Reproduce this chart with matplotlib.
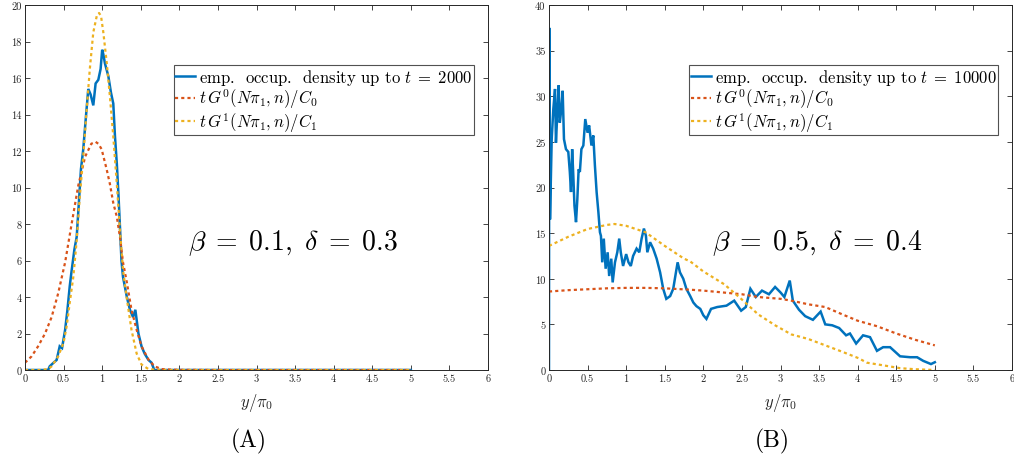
import matplotlib
matplotlib.use("Agg")
import matplotlib.pyplot as plt

plt.rcParams['font.family'] = ['cmr10', 'DejaVu Serif']
plt.rcParams['mathtext.fontset'] = 'cm'
plt.rcParams['axes.formatter.use_mathtext'] = True
plt.rcParams['axes.unicode_minus'] = False

BLUE = '#0072BD'
RED = '#D95319'
YEL = '#EDB120'

# ---------------- Panel A data ----------------
a_emp_x = [0, 0.3, 0.32, 0.37, 0.41, 0.45, 0.48, 0.52, 0.55, 0.58, 0.6, 0.64, 0.67,
           0.70, 0.725, 0.755, 0.79, 0.82, 0.85, 0.885, 0.915, 0.95, 0.98, 1.0, 1.015,
           1.036, 1.08, 1.114, 1.144, 1.166, 1.19, 1.21, 1.23, 1.25, 1.27, 1.32, 1.36,
           1.40, 1.43, 1.47, 1.51, 1.55, 1.6, 1.64, 1.675, 1.8, 2, 3, 4, 5]
a_emp_y = [0, 0, 0.2, 0.4, 0.55, 1.3, 1.2, 2.2, 3.3, 4.6, 5.3, 6.6, 7.3,
           9.3, 11.0, 12.1, 13.9, 15.4, 15.1, 14.5, 15.7, 15.9, 16.5, 17.55, 17.3,
           16.8, 16.1, 15.2, 14.6, 12.8, 11.3, 9.7, 7.9, 6.0, 5.1, 4.0, 3.3,
           2.9, 3.3, 2.0, 1.3, 0.9, 0.55, 0.4, 0, 0, 0, 0, 0, 0]

a_g0_x = [0, 0.086, 0.17, 0.26, 0.345, 0.43, 0.52, 0.6, 0.69, 0.78, 0.86, 0.915, 0.95,
          0.993, 1.058, 1.10, 1.144, 1.19, 1.23, 1.27, 1.32, 1.38, 1.447, 1.51, 1.6,
          1.68, 1.77, 1.9, 2.0, 2.5, 3, 4, 5]
a_g0_y = [0.4, 0.75, 1.3, 2.0, 2.9, 4.2, 5.9, 7.9, 10.1, 11.7, 12.4, 12.5, 12.4,
          12.1, 11.0, 10.2, 9.15, 8.4, 7.3, 5.9, 4.8, 3.3, 2.2, 1.3, 0.57,
          0.2, 0.05, 0.02, 0.01, 0, 0, 0, 0]

a_g1_x = [0, 0.2, 0.3, 0.345, 0.43, 0.5, 0.54, 0.58, 0.626, 0.67, 0.71, 0.755, 0.8,
          0.84, 0.885, 0.93, 0.96, 0.985, 1.015, 1.06, 1.10, 1.144, 1.19, 1.23, 1.27,
          1.32, 1.38, 1.447, 1.51, 1.6, 1.7, 1.8, 2.0, 3.0, 4.0, 5.0]
a_g1_y = [0, 0, 0.05, 0.2, 0.75, 1.5, 2.4, 3.7, 5.1, 7.1, 9.5, 11.7, 14.3,
          16.5, 18.5, 19.4, 19.56, 19.4, 18.5, 16.8, 15.0, 12.8, 10.2, 7.7, 5.5,
          3.9, 2.2, 0.9, 0.3, 0.05, 0.01, 0, 0, 0, 0, 0]

# ---------------- Panel B data ----------------
b_emp_x = [0, 0.003, 0.013, 0.035, 0.056, 0.078, 0.09, 0.108, 0.125, 0.14, 0.16, 0.177,
           0.194, 0.22, 0.25, 0.27, 0.285, 0.3, 0.315, 0.33, 0.35, 0.367, 0.384, 0.40,
           0.42, 0.445, 0.47, 0.50, 0.52, 0.55, 0.574, 0.595, 0.617, 0.64, 0.66, 0.673,
           0.69, 0.71, 0.734, 0.76, 0.78, 0.807, 0.825, 0.855, 0.885, 0.91, 0.93, 0.96,
           1.0, 1.03, 1.06, 1.09, 1.135, 1.17, 1.2, 1.23, 1.256, 1.274, 1.31, 1.35,
           1.395, 1.44, 1.48, 1.52, 1.57, 1.61, 1.645, 1.667, 1.697, 1.74, 1.78, 1.83,
           1.87, 1.91, 1.96, 2.0, 2.04, 2.1, 2.18, 2.3, 2.4, 2.49, 2.55, 2.61, 2.68,
           2.76, 2.85, 2.93, 3.0, 3.05, 3.12, 3.16, 3.24, 3.32, 3.42, 3.52, 3.58, 3.67,
           3.76, 3.85, 3.9, 3.98, 4.07, 4.16, 4.25, 4.33, 4.42, 4.55, 4.68, 4.77, 4.85,
           4.95, 5.0]
b_emp_y = [0, 37.5, 16.5, 25.3, 28.6, 30.8, 24.9, 28.2, 31.2, 27.1, 28.6, 30.6,
           25.3, 24.2, 23.9, 21.7, 19.5, 24.2, 21.3, 18.0, 16.2, 18.7, 22.0, 21.7,
           24.2, 24.6, 27.5, 26.0, 26.8, 24.6, 25.7, 22.4, 19.5, 17.3, 15.1, 14.7,
           11.8, 14.4, 11.1, 12.9, 10.3, 12.2, 9.6, 11.8, 12.9, 14.4, 12.9, 11.4,
           12.7, 11.8, 11.4, 12.5, 13.3, 12.9, 14.4, 15.5, 14.7, 12.9, 14.0, 13.3,
           12.2, 10.7, 8.9, 7.8, 8.1, 8.9, 10.7, 11.8, 10.7, 10.0, 8.9, 8.1,
           7.4, 7.0, 6.7, 6.0, 5.6, 6.7, 6.9, 7.05, 7.6, 6.5, 6.9, 8.9, 8.0,
           8.7, 8.3, 9.1, 8.5, 8.0, 9.8, 7.6, 6.6, 5.9, 5.5, 6.4, 5.0, 4.9,
           4.6, 3.8, 4.0, 2.9, 3.8, 3.6, 2.1, 2.5, 2.5, 1.5, 1.4, 1.4, 1.0,
           0.65, 0.85]

b_g0_x = [0, 0.25, 0.5, 0.75, 1.0, 1.25, 1.5, 1.83, 2.0, 2.25, 2.5, 2.71, 3.0, 3.14,
          3.36, 3.58, 3.8, 4.0, 4.25, 4.5, 4.75, 5.0]
b_g0_y = [8.6, 8.75, 8.85, 8.95, 9.0, 9.0, 8.95, 8.8, 8.7, 8.5, 8.3, 8.0, 7.8, 7.6,
          7.2, 6.9, 6.1, 5.4, 4.8, 4.0, 3.3, 2.7]

b_g1_x = [0, 0.25, 0.5, 0.75, 0.85, 1.0, 1.25, 1.5, 1.75, 1.83, 2.0, 2.27, 2.49, 2.71,
          2.93, 3.14, 3.36, 3.58, 3.8, 4.01, 4.12, 4.34, 4.55, 4.75, 5.0]
b_g1_y = [13.6, 14.6, 15.45, 15.9, 16.0, 15.8, 15.1, 13.6, 12.2, 11.9, 10.8, 9.4, 7.8, 6.1,
          4.9, 3.9, 3.4, 2.7, 2.0, 1.3, 0.8, 0.5, 0.2, 0.08, 0.0]

x_ticks = [0, 0.5, 1, 1.5, 2, 2.5, 3, 3.5, 4, 4.5, 5, 5.5, 6]
x_tick_labels = ['0', '0.5', '1', '1.5', '2', '2.5', '3', '3.5', '4', '4.5', '5', '5.5', '6']
a_y_ticks = list(range(0, 21, 2))
b_y_ticks = list(range(0, 41, 5))

panels = [
    dict(emp=(a_emp_x, a_emp_y), g0=(a_g0_x, a_g0_y), g1=(a_g1_x, a_g1_y), ymax=20,
         yt=a_y_ticks, t='2000', ann=r'$\beta\;=\;0.1,\ \delta\;=\;0.3$', tag='(A)',
         rect=[25, 6, 488, 371]),
    dict(emp=(b_emp_x, b_emp_y), g0=(b_g0_x, b_g0_y), g1=(b_g1_x, b_g1_y), ymax=40,
         yt=b_y_ticks, t='10000', ann=r'$\beta\;=\;0.5,\ \delta\;=\;0.4$', tag='(B)',
         rect=[549, 6, 1012, 371]),
]

W, H = 1014, 464
fig = plt.figure(figsize=(W / 100, H / 100), dpi=100)

for p in panels:
    l, t, r, b = p['rect']
    ax = fig.add_axes([l / W, (H - b) / H, (r - l) / W, (b - t) / H])
    ax.plot(*p['emp'], color=BLUE, lw=1.8, solid_joinstyle='miter',
            label=r'emp.  occup.  density up to $t\;=\;' + p['t'] + '$')
    ax.plot(*p['g0'], color=RED, lw=1.6, linestyle=(0, (1.4, 1.4)),
            label=r'$t\,G^0(N\pi_1, n)/C_0$')
    ax.plot(*p['g1'], color=YEL, lw=1.6, linestyle=(0, (1.4, 1.4)),
            label=r'$t\,G^1(N\pi_1, n)/C_1$')
    ax.set_xlim(0, 6)
    ax.set_ylim(0, p['ymax'])
    ax.set_xticks(x_ticks)
    ax.set_xticklabels(x_tick_labels)
    ax.set_yticks(p['yt'])
    ax.set_yticklabels([str(v) for v in p['yt']])
    ax.tick_params(direction='in', length=3.5, width=0.6, top=True, right=True,
                   labelsize=7.5, colors='#262626', pad=2.5)
    for s in ax.spines.values():
        s.set_color('#262626')
        s.set_linewidth(0.7)
    ax.set_xlabel(r'$y/\pi_0$', fontsize=12, labelpad=6, color='#262626')
    leg = ax.legend(loc='upper right', bbox_to_anchor=(0.97, 0.835), fontsize=12,
                    frameon=True, fancybox=False, edgecolor='#262626', handlelength=1.2,
                    handletextpad=0.25, borderpad=0.08, labelspacing=0.0,
                    borderaxespad=0)
    leg.get_frame().set_linewidth(0.8)
    ax.text(0.579, 0.351, p['ann'], transform=ax.transAxes, fontsize=20,
            ha='center', va='center')
    fig.text(((l + r) / 2 - 8) / W, 1 - 441 / H, p['tag'], fontsize=17,
             ha='center', va='center')

fig.savefig('out.png', dpi=100)
